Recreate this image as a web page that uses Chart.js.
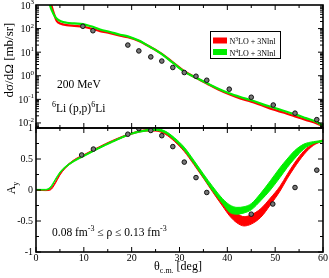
<!DOCTYPE html>
<html>
<head>
<meta charset="utf-8">
<script src="https://cdn.jsdelivr.net/npm/chart.js@4.4.1/dist/chart.umd.min.js"></script>
<style>
  body { margin: 0; background: #fff; }
  #wrap { position: relative; width: 329px; height: 278px; }
  canvas { position: absolute; left: 0; top: 0; }
</style>
</head>
<body>
<div id="wrap">
  <canvas id="topChart" width="329" height="278"></canvas>
  <canvas id="botChart" width="329" height="278"></canvas>
</div>
<script>
// cross section, top panel
const angN3 = [2.7, 3.2, 3.8, 4.3, 5.2, 6.4, 8, 9.8, 11.5, 13.4, 15.5, 17.6, 19.2, 21.5, 23.8, 26.3, 28.6, 31, 33.45, 35.7, 38, 40.4, 42.7, 45, 47.3, 49.6, 51.9, 54.15, 56.4, 58.7, 60];
const xsecN3 = [2500, 1000, 400, 215, 160, 141, 130, 120, 100, 78, 64, 50, 43, 30, 17, 8.5, 3.7, 1.55, 0.82, 0.47, 0.27, 0.165, 0.11, 0.08, 0.055, 0.037, 0.027, 0.019, 0.0135, 0.0095, 0.0072];
const angN4 = [2.5, 2.9, 3.6, 4.3, 5.2, 6.4, 8, 9.8, 11.5, 13.4, 15.5, 17.6, 19.2, 21.5, 23.8, 26.3, 28.6, 31, 33.45, 35.7, 38, 40.4, 42.7, 45, 47.3, 49.6, 51.9, 54.15, 56.4, 58.7, 60];
const xsecN4 = [2500, 1000, 440, 270, 205, 177, 165, 155, 125, 92, 72, 55, 47, 31, 17, 8.3, 3.6, 1.5, 0.83, 0.49, 0.29, 0.18, 0.125, 0.091, 0.063, 0.045, 0.032, 0.023, 0.016, 0.011, 0.0075];
const angXsecData = [9.8, 11.9, 19.2, 21.5, 24, 26.3, 28.6, 31, 33.45, 35.7, 40.4, 45, 49.6, 54.15, 58.7];
const xsecData = [125, 81, 20, 11.3, 6.3, 4.2, 2.24, 1.37, 0.955, 0.646, 0.27, 0.123, 0.0575, 0.026, 0.0138];

// analyzing power, bottom panel (bands: lower / upper)
const angAy = [0, 2, 3, 4, 5, 6, 8, 10, 13, 16, 20, 23, 25, 27, 29, 31, 33, 35, 37, 39, 40.5, 42, 43.5, 45, 47, 49, 51, 52.5, 54, 56, 58, 60];
const ayN4Lo = [0, 0, 0.03, 0.15, 0.27, 0.35, 0.46, 0.54, 0.66, 0.77, 0.90, 0.95, 0.96, 0.92, 0.80, 0.64, 0.43, 0.20, -0.02, -0.22, -0.36, -0.39, -0.37, -0.32, -0.17, 0.0, 0.2, 0.36, 0.50, 0.66, 0.75, 0.78];
const ayN4Hi = [0.01, 0.01, 0.05, 0.17, 0.29, 0.37, 0.48, 0.56, 0.68, 0.79, 0.92, 0.97, 0.99, 0.95, 0.84, 0.69, 0.48, 0.26, 0.05, -0.14, -0.24, -0.28, -0.27, -0.22, -0.05, 0.15, 0.36, 0.50, 0.63, 0.74, 0.78, 0.80];
const ayN3Lo = [-0.005, -0.01, 0.0, 0.10, 0.24, 0.34, 0.47, 0.55, 0.67, 0.78, 0.90, 0.95, 0.95, 0.90, 0.78, 0.62, 0.41, 0.19, -0.04, -0.26, -0.42, -0.53, -0.58, -0.55, -0.44, -0.24, -0.02, 0.18, 0.36, 0.57, 0.72, 0.79];
const ayN3Hi = [0.005, 0.0, 0.02, 0.12, 0.26, 0.36, 0.49, 0.57, 0.69, 0.80, 0.92, 0.97, 0.97, 0.93, 0.82, 0.67, 0.46, 0.24, 0.02, -0.18, -0.30, -0.38, -0.43, -0.40, -0.30, -0.13, 0.06, 0.25, 0.43, 0.63, 0.75, 0.81];
const angAyData = [9.55, 12, 19.2, 21.5, 24, 26.3, 28.6, 31, 33.45, 35.7, 45, 49.5, 54.15, 58.7];
const ayData = [0.565, 0.66, 0.90, 0.99, 0.96, 0.876, 0.70, 0.45, 0.20, -0.04, -0.39, -0.226, 0.04, 0.32];

// ticks
const thetaTicks = [0, 10, 20, 30, 40, 50, 60];
const decadeTicks = [3, 2, 1, 0, -1, -2];
const ayTicks = [1, 0.5, 0, -0.5, -1];

const FONT = '"Liberation Serif", "Times New Roman", serif';
const RED = "#ff0000";
const GREEN = "#00ee00";

function pts(xs, ys) {
  return xs.map(function(x, i) { return { x: x, y: ys[i] }; });
}

// draws text pieces [text, size, dy] one after another
function rich(ctx, x, y, parts, align) {
  let w = 0;
  parts.forEach(function(p) {
    ctx.font = p[1] + "px " + FONT;
    w += ctx.measureText(p[0]).width;
  });
  let cx = align === "right" ? x - w : align === "center" ? x - w / 2 : x;
  ctx.textAlign = "left";
  ctx.textBaseline = "alphabetic";
  parts.forEach(function(p) {
    ctx.font = p[1] + "px " + FONT;
    ctx.fillText(p[0], cx, y + (p[2] || 0));
    cx += ctx.measureText(p[0]).width;
  });
}

function tick(ctx, x1, y1, x2, y2) {
  ctx.beginPath();
  ctx.moveTo(x1, y1);
  ctx.lineTo(x2, y2);
  ctx.stroke();
}

function drawFrame(chart) {
  const ctx = chart.ctx;
  const a = chart.chartArea;
  const xs = chart.scales.x;
  ctx.save();
  ctx.strokeStyle = "#000";
  ctx.lineWidth = 1;
  for (let v = 0; v <= 60; v += 5) {
    const px = xs.getPixelForValue(v);
    const len = v % 10 === 0 ? 5 : 3;
    tick(ctx, px, a.top, px, a.top + len);
    tick(ctx, px, a.bottom, px, a.bottom - len);
  }
  ctx.lineWidth = 1.6;
  ctx.strokeRect(a.left, a.top, a.right - a.left, a.bottom - a.top);
  ctx.restore();
}

const topPlugin = {
  id: "topDecor",
  afterDraw: function(chart) {
    const ctx = chart.ctx;
    const a = chart.chartArea;
    const ys = chart.scales.y;
    drawFrame(chart);
    ctx.save();
    ctx.strokeStyle = "#000";
    ctx.lineWidth = 1;
    decadeTicks.forEach(function(e) {
      for (let m = 1; m <= 9; m++) {
        const v = m * Math.pow(10, e - 1);
        if (v < ys.min || v > ys.max) continue;
        const py = ys.getPixelForValue(v);
        const len = m === 1 ? 5 : 3;
        tick(ctx, a.left, py, a.left + len, py);
        tick(ctx, a.right, py, a.right - len, py);
      }
    });
    ctx.fillStyle = "#000";
    decadeTicks.forEach(function(e) {
      const py = ys.getPixelForValue(Math.pow(10, e));
      rich(ctx, 34, py + 3.5, [["10", 10], [String(e), 7, -4.5]], "right");
    });

    // axis title
    ctx.save();
    ctx.translate(13, 60);
    ctx.rotate(-Math.PI / 2);
    rich(ctx, 0, 0, [["dσ/dΩ [mb/sr]", 13]], "center");
    ctx.restore();

    rich(ctx, 57, 88, [["200 MeV", 11.5]], "left");
    rich(ctx, 52, 112, [["6", 8, -5], ["Li (p,p)", 11.5], ["6", 8, -5], ["Li", 11.5]], "left");

    // legend
    ctx.fillStyle = "#fff";
    ctx.fillRect(210.5, 31.5, 70, 27);
    ctx.lineWidth = 1;
    ctx.strokeRect(210.5, 31.5, 70, 27);
    ctx.fillStyle = RED;
    ctx.fillRect(213, 37.5, 14, 6);
    ctx.fillStyle = GREEN;
    ctx.fillRect(213, 49, 14, 6);
    ctx.fillStyle = "#000";
    rich(ctx, 229.5, 44, [["N", 8], ["3", 5.5, -3], ["LO + 3Nlnl", 8]], "left");
    rich(ctx, 229.5, 55.5, [["N", 8], ["4", 5.5, -3], ["LO + 3Nlnl", 8]], "left");
    ctx.restore();
  }
};

const botPlugin = {
  id: "botDecor",
  afterDraw: function(chart) {
    const ctx = chart.ctx;
    const a = chart.chartArea;
    const xs = chart.scales.x;
    const ys = chart.scales.y;
    drawFrame(chart);
    ctx.save();
    ctx.strokeStyle = "#000";
    ctx.lineWidth = 1;
    for (let v = -1; v <= 1.001; v += 0.25) {
      const py = ys.getPixelForValue(v);
      const len = Math.abs(v * 2 - Math.round(v * 2)) < 0.01 ? 5 : 3;
      tick(ctx, a.left, py, a.left + len, py);
      tick(ctx, a.right, py, a.right - len, py);
    }
    ctx.fillStyle = "#000";
    ctx.font = "10px " + FONT;
    ctx.textAlign = "right";
    ctx.textBaseline = "middle";
    ayTicks.forEach(function(v) {
      ctx.fillText(String(v), 33, ys.getPixelForValue(v));
    });
    ctx.textAlign = "center";
    ctx.textBaseline = "alphabetic";
    thetaTicks.forEach(function(v) {
      ctx.fillText(String(v), xs.getPixelForValue(v), 261);
    });

    rich(ctx, 178, 270, [["θ", 12], ["c.m.", 8, 3], [" [deg]", 12]], "center");

    ctx.save();
    ctx.translate(15, 188);
    ctx.rotate(-Math.PI / 2);
    rich(ctx, 0, 0, [["A", 12], ["y", 8, 3]], "center");
    ctx.restore();

    rich(ctx, 52, 236, [["0.08 fm", 11.5], ["-3", 8, -5], [" ≤ ρ ≤ 0.13 fm", 11.5], ["-3", 8, -5]], "left");
    ctx.restore();
  }
};

const baseOptions = function(yScale, padding) {
  return {
    responsive: false,
    devicePixelRatio: 1,
    animation: false,
    events: [],
    layout: { padding: padding },
    plugins: { legend: { display: false }, tooltip: { enabled: false } },
    scales: {
      x: { type: "linear", min: 0, max: 60, display: false },
      y: yScale
    }
  };
};

new Chart(document.getElementById("topChart"), {
  type: "line",
  data: {
    datasets: [
      {
        data: pts(angXsecData, xsecData),
        showLine: false,
        pointRadius: 2.3,
        pointBackgroundColor: "#777",
        pointBorderColor: "#111",
        pointBorderWidth: 1,
        order: 0
      },
      {
        data: pts(angN4, xsecN4),
        borderColor: GREEN,
        borderWidth: 2.2,
        pointRadius: 0,
        cubicInterpolationMode: "monotone",
        order: 1
      },
      {
        data: pts(angN3, xsecN3),
        borderColor: RED,
        borderWidth: 2.2,
        pointRadius: 0,
        cubicInterpolationMode: "monotone",
        order: 2
      }
    ]
  },
  options: baseOptions(
    { type: "logarithmic", min: 0.0061, max: 1000, display: false },
    { left: 36, top: 5, right: 6, bottom: 150 }
  ),
  plugins: [topPlugin]
});

new Chart(document.getElementById("botChart"), {
  type: "line",
  data: {
    datasets: [
      {
        data: pts(angAyData, ayData),
        showLine: false,
        pointRadius: 2.3,
        pointBackgroundColor: "#777",
        pointBorderColor: "#111",
        pointBorderWidth: 1,
        order: 0
      },
      {
        data: pts(angAy, ayN4Hi),
        borderColor: GREEN,
        borderWidth: 1,
        backgroundColor: GREEN,
        fill: "+1",
        pointRadius: 0,
        cubicInterpolationMode: "monotone",
        order: 1
      },
      {
        data: pts(angAy, ayN4Lo),
        borderColor: GREEN,
        borderWidth: 1,
        pointRadius: 0,
        cubicInterpolationMode: "monotone",
        order: 1
      },
      {
        data: pts(angAy, ayN3Hi),
        borderColor: RED,
        borderWidth: 1,
        backgroundColor: RED,
        fill: "+1",
        pointRadius: 0,
        cubicInterpolationMode: "monotone",
        order: 2
      },
      {
        data: pts(angAy, ayN3Lo),
        borderColor: RED,
        borderWidth: 1,
        pointRadius: 0,
        cubicInterpolationMode: "monotone",
        order: 2
      }
    ]
  },
  options: baseOptions(
    { type: "linear", min: -1, max: 1, display: false },
    { left: 36, top: 128, right: 6, bottom: 26 }
  ),
  plugins: [botPlugin]
});
</script>
</body>
</html>
